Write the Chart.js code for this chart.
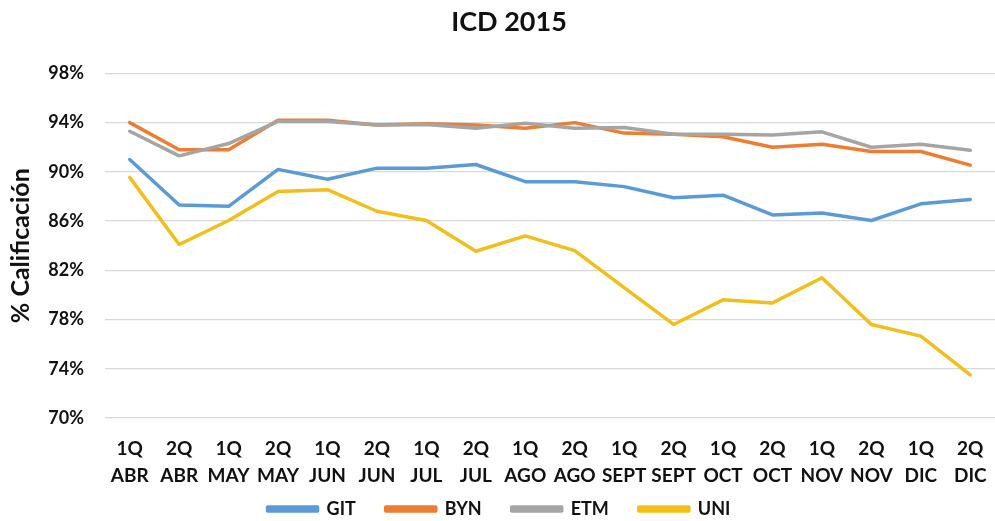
<!DOCTYPE html>
<html>
<head>
<meta charset="utf-8">
<script src="https://cdn.jsdelivr.net/npm/chart.js@4/dist/chart.umd.min.js"></script>
<style>
  html, body { margin: 0; padding: 0; background: #ffffff; }
  #wrap { width: 995px; height: 521px; position: relative; }
</style>
</head>
<body>
<div id="wrap"><canvas id="c" width="995" height="521"></canvas></div>
<script>
const categories = [
  ['1Q','ABR'], ['2Q','ABR'], ['1Q','MAY'], ['2Q','MAY'], ['1Q','JUN'], ['2Q','JUN'],
  ['1Q','JUL'], ['2Q','JUL'], ['1Q','AGO'], ['2Q','AGO'], ['1Q','SEPT'], ['2Q','SEPT'],
  ['1Q','OCT'], ['2Q','OCT'], ['1Q','NOV'], ['2Q','NOV'], ['1Q','DIC'], ['2Q','DIC']
];
const seriesNames = ['GIT', 'BYN', 'ETM', 'UNI'];
const git = [91.0, 87.3, 87.2, 90.2, 89.4, 90.3, 90.3, 90.6, 89.2, 89.2, 88.8, 87.9, 88.1, 86.5, 86.65, 86.05, 87.4, 87.75];
const byn = [94.0, 91.8, 91.8, 94.2, 94.2, 93.8, 93.9, 93.8, 93.55, 94.0, 93.15, 93.05, 92.85, 92.0, 92.25, 91.65, 91.65, 90.55];
const etm = [93.3, 91.3, 92.3, 94.1, 94.1, 93.8, 93.85, 93.55, 93.95, 93.55, 93.6, 93.05, 93.05, 93.0, 93.25, 92.0, 92.25, 91.75];
const uni = [89.55, 84.1, 86.05, 88.4, 88.55, 86.8, 86.05, 83.55, 84.8, 83.6, 80.6, 77.6, 79.6, 79.35, 81.4, 77.6, 76.65, 73.5];
const yTicks = [70, 74, 78, 82, 86, 90, 94, 98];

const colors = ['#5B9BD5', '#ED7D31', '#A5A5A5', '#F2BE1A'];
const values = [git, byn, etm, uni];
const FONT = 'Lato, "Open Sans", sans-serif';

const datasets = seriesNames.map((name, i) => ({
  label: name,
  data: values[i],
  borderColor: colors[i],
  backgroundColor: colors[i],
  borderWidth: 3.5,
  pointRadius: 0,
  pointHoverRadius: 0,
  tension: 0,
  fill: false,
  borderJoinStyle: 'round',
  borderCapStyle: 'round',
  order: seriesNames.length - i
}));

// shift the chart title slightly right, as in the reference
const titleShift = {
  id: 'titleShift',
  afterLayout(chart) {
    const t = chart.titleBlock;
    if (t) { t.left += 10; t.right += 10; }
  }
};

new Chart(document.getElementById('c'), {
  type: 'line',
  data: { labels: categories, datasets },
  plugins: [titleShift],
  options: {
    responsive: false,
    animation: false,
    events: [],
    layout: { padding: { left: 0, right: -3, top: 0, bottom: -7 } },
    plugins: {
      title: {
        display: true,
        text: 'ICD 2015',
        color: '#111111',
        font: { family: FONT, size: 27, weight: 'bold' },
        padding: { top: 6, bottom: 35 }
      },
      legend: {
        display: true,
        position: 'bottom',
        labels: {
          sort: (a, b) => a.datasetIndex - b.datasetIndex,
          boxWidth: 50,
          boxHeight: 4,
          padding: 30,
          color: '#111111',
          font: { family: FONT, size: 18, weight: 'bold' }
        }
      },
      tooltip: { enabled: false }
    },
    scales: {
      x: {
        offset: true,
        grid: { display: false, drawTicks: false },
        border: { display: false },
        afterFit: (scale) => {
          scale.height = 52;
          scale.paddingLeft = 0;
          scale.paddingRight = 0;
          scale._computeLabelArea = () => undefined;
        },
        ticks: {
          autoSkip: false,
          maxRotation: 0,
          minRotation: 0,
          padding: 17,
          color: '#111111',
          font: { family: FONT, size: 19, weight: 'bold', lineHeight: 1.45 }
        }
      },
      y: {
        min: 70,
        max: 98,
        afterBuildTicks: (scale) => { scale.ticks = yTicks.map(v => ({ value: v })); },
        afterFit: (scale) => { scale.width = 105; },
        grid: { color: '#D9D9D9', lineWidth: 1.3, drawTicks: false },
        border: { display: false },
        ticks: {
          padding: 21,
          color: '#111111',
          font: { family: FONT, size: 18, weight: 'bold' },
          callback: (v) => v + '%'
        },
        title: {
          display: true,
          text: '% Calificación',
          color: '#111111',
          font: { family: FONT, size: 25, weight: 'bold' },
          padding: { top: 6, bottom: 0 }
        }
      }
    }
  }
});
</script>
</body>
</html>
